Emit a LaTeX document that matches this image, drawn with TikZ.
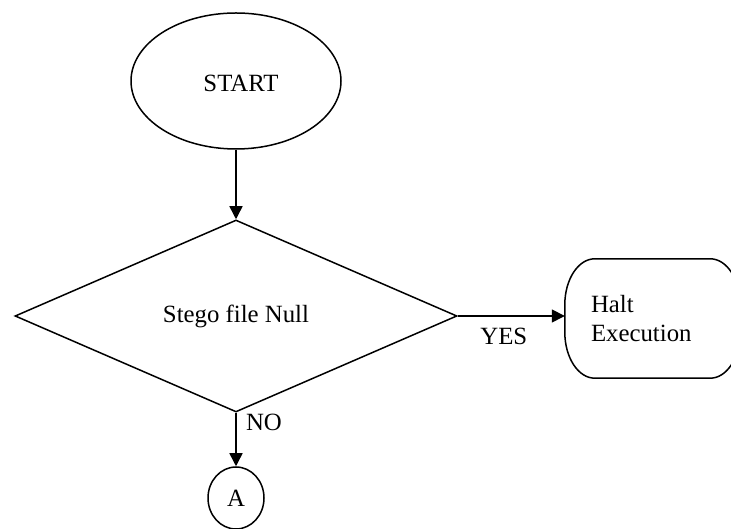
\documentclass[tikz,border=0pt]{standalone}
\usepackage{fontspec}
\setmainfont{Liberation Serif}
\usetikzlibrary{shapes.geometric,arrows.meta}
\begin{document}
\begin{tikzpicture}[x=1pt,y=1pt,
  every node/.style={font=\fontsize{24.8}{29}\selectfont},
  outline/.style={draw, line width=1.5pt},
  flow/.style={line width=1.5pt, -{Triangle[length=13pt,width=13pt]}},
  lbl/.style={inner sep=0pt}]
\clip (0,0) rectangle (731,529);

% terminal, decision and connector nodes
\node[outline, ellipse, minimum width=210, minimum height=136, inner sep=0pt]
  (start) at (236,448) {};
\node[lbl] (starttext) at (241,446) {START};
\node[outline, diamond, minimum width=442, minimum height=192, inner sep=0pt]
  (dec) at (236,213) {Stego file Null};
\node[outline, ellipse, minimum width=56, minimum height=62, inner sep=0pt]
  (conn) at (236,31) {A};

% halt box: rectangle with elliptic corners, text set flush left
\node[rectangle, minimum width=175, minimum height=119, inner xsep=26pt,
      text width=123pt, align=left] (halt) at (652.5,210.5)
  {Halt\\Execution};
\draw[line width=1.5pt]
  ([xshift=30pt]halt.north west) -- ([xshift=-30pt]halt.north east)
  arc[start angle=90, end angle=0, x radius=30, y radius=46]
  -- ([yshift=46pt]halt.south east)
  arc[start angle=0, end angle=-90, x radius=30, y radius=46]
  -- ([xshift=30pt]halt.south west)
  arc[start angle=270, end angle=180, x radius=30, y radius=46]
  -- ([yshift=-46pt]halt.north west)
  arc[start angle=180, end angle=90, x radius=30, y radius=46]
  -- cycle;

% connectors
\draw[flow] (start.south) -- (dec.north);
\draw[flow] (dec.east) -- node[lbl, pos=0.43, yshift=-20pt] {YES} (dec.east -| halt.west);
\draw[flow] (dec.south) -- node[lbl, pos=0.18, xshift=28pt] {NO} (conn.north);
\end{tikzpicture}
\end{document}
